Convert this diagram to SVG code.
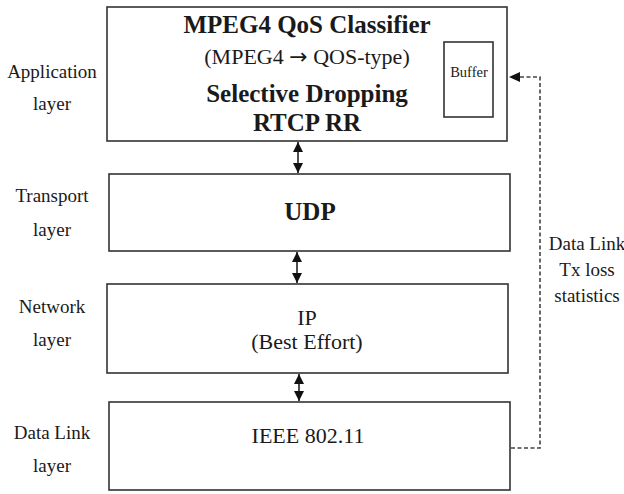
<svg xmlns="http://www.w3.org/2000/svg" width="624" height="494" viewBox="0 0 624 494">
<defs>
<style>
text{font-family:"Liberation Serif","Times New Roman",serif;fill:#1a1a1a;text-anchor:middle}
.lbl{font-size:19px}
.b{font-weight:bold;font-size:25px}
.r{font-size:22px}
.arr{font-family:"DejaVu Sans",sans-serif;font-size:22px}
.box{fill:#fff;stroke:#333;stroke-width:1.6}
.conn{stroke:#222;stroke-width:1.6;fill:none}
.dash{stroke:#444;stroke-width:1.6;fill:none;stroke-dasharray:4 2.5}
</style>
<marker id="ah2" viewBox="0 0 10 10" refX="10" refY="5" markerWidth="10" markerHeight="13" markerUnits="userSpaceOnUse" orient="auto-start-reverse">
<path d="M0,0 L10,5 L0,10 z" fill="#111"/>
</marker>
</defs>
<rect width="624" height="494" fill="#fff"/>

<g id="labels">
<text class="lbl" x="52" y="78">Application</text>
<text class="lbl" x="52" y="110">layer</text>
<text class="lbl" x="52" y="202">Transport</text>
<text class="lbl" x="52" y="236">layer</text>
<text class="lbl" x="52" y="313">Network</text>
<text class="lbl" x="52" y="346">layer</text>
<text class="lbl" x="52" y="439">Data Link</text>
<text class="lbl" x="52" y="472">layer</text>
</g>

<g id="app">
<rect class="box" x="107" y="7" width="400" height="134"/>
<text class="b" x="307" y="33">MPEG4 QoS Classifier</text>
<text class="r" x="307" y="64">(MPEG4 <tspan class="arr">→</tspan> QOS-type)</text>
<text class="b" x="307" y="102">Selective Dropping</text>
<text class="b" x="307" y="131">RTCP RR</text>
</g>
<g id="buffer">
<rect class="box" x="444" y="42" width="49" height="75"/>
<text x="469" y="77" style="font-size:14.5px">Buffer</text>
</g>
<g id="udp">
<rect class="box" x="109" y="174" width="401" height="77"/>
<text class="b" x="310" y="220">UDP</text>
</g>
<g id="ip">
<rect class="box" x="107" y="284" width="401" height="89"/>
<text class="r" x="307" y="325">IP</text>
<text class="r" x="307" y="349">(Best Effort)</text>
</g>
<g id="datalink">
<rect class="box" x="109" y="402" width="401" height="88"/>
<text class="r" x="308" y="443">IEEE 802.11</text>
</g>
<g id="stats-label">
<text class="lbl" x="587" y="250">Data Link</text>
<text class="lbl" x="587" y="276">Tx loss</text>
<text class="lbl" x="587" y="302">statistics</text>
</g>

<g id="connectors">
<line class="conn" x1="298" y1="142" x2="298" y2="173" marker-start="url(#ah2)" marker-end="url(#ah2)"/>
<line class="conn" x1="297" y1="252" x2="297" y2="283" marker-start="url(#ah2)" marker-end="url(#ah2)"/>
<line class="conn" x1="299" y1="374" x2="299" y2="401" marker-start="url(#ah2)" marker-end="url(#ah2)"/>
<polyline class="dash" points="511,448 540,448 540,77 519,77"/>
<path d="M509,77 L520,72 L520,82 z" fill="#111"/>
</g>
</svg>
